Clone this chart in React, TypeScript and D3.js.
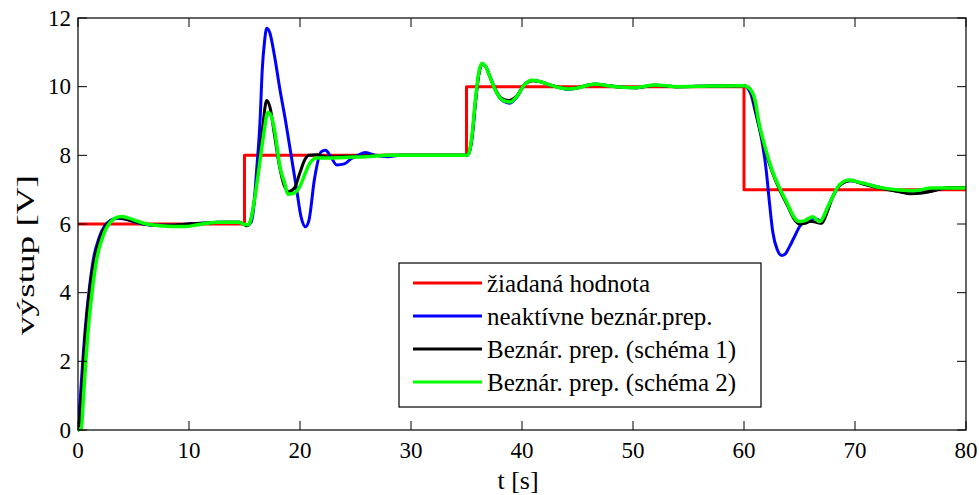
import React from "react";
import * as d3 from "d3";

// ---------- data ----------
const xTicks = [0, 10, 20, 30, 40, 50, 60, 70, 80];
const yTicks = [0, 2, 4, 6, 8, 10, 12];

const legendLabels = [
  "žiadaná hodnota",
  "neaktívne beznár.prep.",
  "Beznár. prep. (schéma 1)",
  "Beznár. prep. (schéma 2)",
];

// setpoint (žiadaná hodnota)
const refT = [0, 15, 15, 35, 35, 60, 60, 80];
const refV = [6, 6, 8, 8, 10, 10, 7, 7];

// neaktívne beznár.prep. (blue)
const blueT = [0, 0.2, 0.45, 0.75, 1.05, 1.4, 1.9, 2.4, 2.9, 3.5, 4.1, 4.9, 5.8, 7.0, 8.5, 10, 11.5, 13, 14.5, 14.9,
  15.3, 15.6, 15.8, 16.1, 16.4, 16.6, 16.8, 17.0, 17.3, 17.7, 18.2, 18.7, 19.2, 19.7, 20.1, 20.5, 20.8, 21.3, 21.9, 22.3,
  22.8, 23.3, 24.0, 24.6, 25.2, 25.9, 26.8, 27.9, 29, 31, 33, 35,
  35.2, 35.5, 35.8, 36.1, 36.4, 36.7, 37.1, 37.6, 38.2, 38.9, 39.5, 40.2, 40.9, 41.6, 42.5, 43.4, 44.2, 45, 46, 46.6, 47.5, 48.8, 50.2, 52, 54, 57, 59.6, 60.0,
  60.6, 61.0, 61.3, 61.6, 62.0, 62.3, 62.6, 63.0, 63.4, 63.7, 64.1, 64.5, 65.0, 65.5, 65.9, 66.5, 67.0, 67.7, 68.6, 69.5, 70.3, 71.2, 72.2, 73.2, 74.2, 75.2, 76.2, 77.2, 78.2, 79.2, 80];
const blueV = [0, 0.9, 2.1, 3.3, 4.2, 5.0, 5.6, 5.95, 6.1, 6.17, 6.15, 6.08, 6.0, 5.96, 5.96, 6.0, 6.03, 6.05, 6.05, 6.0,
  5.97, 6.05, 6.4, 7.6, 9.0, 10.5, 11.3, 11.7, 11.55, 10.9, 9.9, 9.0, 8.0, 7.0, 6.2, 5.92, 6.1, 7.3, 8.1, 8.15,
  7.95, 7.72, 7.75, 7.9, 8.0, 8.08, 8.0, 7.96, 8.0, 8.0, 8.0, 8.0,
  8.05, 8.5, 9.5, 10.35, 10.65, 10.6, 10.3, 9.9, 9.6, 9.52, 9.68, 10.05, 10.18, 10.15, 10.05, 9.97, 9.92, 9.96, 10.05, 10.08, 10.04, 9.99, 9.97, 10.04, 10.0, 10.02, 10.03, 10.03,
  9.8, 9.3, 8.9, 8.45, 7.57, 6.6, 5.75, 5.25, 5.08, 5.12, 5.34, 5.6, 5.92, 6.1, 6.17, 6.15, 6.08, 6.6, 7.12, 7.26, 7.22, 7.15, 7.07, 7.0, 6.93, 6.9, 6.92, 6.98, 7.05, 7.06, 7.06];

// Beznár. prep. (schéma 1) (black)
const blackT = [0, 0.2, 0.5, 0.8, 1.1, 1.5, 2.0, 2.5, 3.0, 3.6, 4.2, 5.0, 6.0, 7.0, 8.5, 10, 11.5, 13, 14.5, 14.9,
  15.2, 15.5, 15.8, 16.2, 16.6, 16.9, 17.0, 17.3, 17.7, 18.2, 18.6, 19.0, 19.5, 20.0, 20.4, 20.8, 21.5, 22.5, 24, 26, 28, 31, 33, 35,
  35.2, 35.5, 35.8, 36.1, 36.4, 36.7, 37.1, 37.6, 38.2, 38.8, 39.5, 40.2, 41.0, 41.6, 42.5, 43.4, 44.2, 45, 46, 46.6, 47.5, 48.8, 50.2, 52, 54, 57, 59.6, 60.0,
  60.5, 60.8, 61.3, 61.9, 62.5, 63.2, 63.9, 64.5, 65.0, 65.5, 66.0, 66.5, 67.0, 67.5, 68.0, 68.6, 69.2, 69.7, 70.3, 71, 72, 73, 74, 75, 76, 77, 78, 79, 80];
const blackV = [0, 0.4, 2.0, 3.3, 4.2, 5.0, 5.6, 5.95, 6.1, 6.18, 6.15, 6.08, 6.0, 5.96, 5.96, 6.0, 6.03, 6.05, 6.05, 6.0,
  5.95, 6.05, 6.5, 7.5, 8.7, 9.5, 9.6, 9.4, 8.6, 7.6, 7.1, 6.95, 7.05, 7.5, 7.85, 8.0, 8.02, 7.95, 7.97, 7.98, 8.0, 8.0, 8.0, 8.0,
  8.05, 8.55, 9.55, 10.35, 10.65, 10.6, 10.3, 9.92, 9.65, 9.6, 9.72, 10.05, 10.17, 10.15, 10.05, 9.98, 9.94, 9.97, 10.05, 10.07, 10.04, 9.99, 9.97, 10.04, 10.0, 10.02, 10.03, 10.03,
  9.95, 9.7, 8.95, 8.15, 7.55, 7.0, 6.55, 6.15, 6.0, 6.02, 6.08, 6.05, 6.02, 6.35, 6.8, 7.12, 7.24, 7.27, 7.21, 7.14, 7.06, 7.0, 6.94, 6.88, 6.9, 6.96, 7.04, 7.06, 7.06];

// Beznár. prep. (schéma 2) (green)
const greenT = [0, 0.3, 0.5, 0.7, 1.0, 1.3, 1.7, 2.1, 2.5, 2.9, 3.4, 3.9, 4.5, 5.2, 6.2, 7.4, 8.5, 9.8, 10.8, 11.6, 12.5, 13.5, 14.5, 14.9,
  15.3, 15.55, 15.8, 16.2, 16.7, 17.1, 17.4, 17.7, 18.2, 18.65, 18.9, 19.3, 20.0, 20.5, 20.9, 21.5, 22.5, 24, 26, 28, 31, 33, 35,
  35.2, 35.5, 35.8, 36.1, 36.4, 36.7, 37.1, 37.6, 38.2, 38.9, 39.5, 40.2, 40.9, 41.6, 42.5, 43.4, 44.2, 45, 46, 46.6, 47.5, 48.8, 50.2, 52, 54, 57, 59.6, 60.0,
  60.5, 61.0, 61.3, 61.9, 62.5, 63.2, 63.9, 64.5, 65.0, 65.5, 66.2, 66.8, 67.7, 68.6, 69.5, 70.3, 71.0, 72.0, 72.9, 74.0, 75.2, 76.0, 76.8, 78, 79, 80];
const greenV = [0, 0.05, 1.0, 2.0, 3.2, 4.1, 5.0, 5.5, 5.85, 6.05, 6.18, 6.22, 6.18, 6.1, 6.0, 5.95, 5.93, 5.93, 5.98, 6.02, 6.05, 6.05, 6.05, 6.0,
  5.98, 6.1, 6.5, 7.37, 8.55, 9.25, 9.15, 8.74, 7.66, 7.15, 6.87, 6.88, 7.1, 7.5, 7.78, 7.92, 7.92, 7.94, 7.96, 8.0, 8.0, 8.0, 8.0,
  8.05, 8.6, 9.6, 10.4, 10.68, 10.6, 10.3, 9.9, 9.62, 9.55, 9.7, 10.05, 10.19, 10.15, 10.05, 9.97, 9.93, 9.96, 10.05, 10.08, 10.04, 9.99, 9.97, 10.05, 10.0, 10.02, 10.03, 10.03,
  9.95, 9.6, 9.03, 8.24, 7.6, 7.05, 6.6, 6.2, 6.07, 6.1, 6.21, 6.07, 6.6, 7.14, 7.28, 7.22, 7.17, 7.08, 7.03, 6.99, 6.97, 7.0, 7.05, 7.05, 7.05, 7.05];

// ---------- layout ----------
const W = 979;
const H = 495;
const M = { left: 78, top: 18, right: 966, bottom: 430 };
const FONT = "Liberation Serif, Times New Roman, DejaVu Serif, serif";

export default function App() {
  const x = d3.scaleLinear().domain([0, 80]).range([M.left, M.right]);
  const y = d3.scaleLinear().domain([0, 12]).range([M.bottom, M.top]);

  const mk = (ts: number[], vs: number[], curve: d3.CurveFactory) =>
    d3
      .line<number>()
      .x((_, i) => x(ts[i]))
      .y((v) => y(v))
      .curve(curve)(vs) || "";

  const series = [
    { d: mk(refT, refV, d3.curveLinear), color: "#ff0000", w: 3 },
    { d: mk(blueT, blueV, d3.curveMonotoneX), color: "#0000ff", w: 3 },
    { d: mk(blackT, blackV, d3.curveMonotoneX), color: "#000000", w: 3 },
    { d: mk(greenT, greenV, d3.curveMonotoneX), color: "#00ff00", w: 3.5 },
  ];
  const legendColors = ["#ff0000", "#0000ff", "#000000", "#00ff00"];
  const tickLen = 9;

  return (
    <svg width={W} height={H} style={{ position: "absolute", left: 0, top: 0, background: "#fff", fontFamily: FONT }}>
      <rect x={0} y={0} width={W} height={H} fill="#fff" />
      <defs>
        <clipPath id="plotclip">
          <rect x={M.left} y={M.top - 2} width={M.right - M.left} height={M.bottom - M.top + 4} />
        </clipPath>
      </defs>
      <g clipPath="url(#plotclip)">
        {series.map((s, i) => (
          <path key={i} d={s.d} fill="none" stroke={s.color} strokeWidth={s.w} strokeLinejoin="round" strokeLinecap="round" />
        ))}
      </g>
      {/* frame */}
      <rect x={M.left} y={M.top} width={M.right - M.left} height={M.bottom - M.top} fill="none" stroke="#000" strokeWidth={1.2} />
      {/* ticks */}
      {xTicks.map((t) => (
        <g key={"xt" + t}>
          <line x1={x(t)} x2={x(t)} y1={M.bottom} y2={M.bottom - tickLen} stroke="#000" strokeWidth={1} />
          <line x1={x(t)} x2={x(t)} y1={M.top} y2={M.top + tickLen} stroke="#000" strokeWidth={1} />
          <text x={x(t)} y={458} fontSize={23} textAnchor="middle" fill="#000">{t}</text>
        </g>
      ))}
      {yTicks.map((t) => (
        <g key={"yt" + t}>
          <line x1={M.left} x2={M.left + tickLen} y1={y(t)} y2={y(t)} stroke="#000" strokeWidth={1} />
          <line x1={M.right} x2={M.right - tickLen} y1={y(t)} y2={y(t)} stroke="#000" strokeWidth={1} />
          <text x={71} y={y(t) + 7.5} fontSize={23} textAnchor="end" fill="#000">{t}</text>
        </g>
      ))}
      {/* axis labels */}
      <text x={518} y={489} fontSize={26} textAnchor="middle" fill="#000">t [s]</text>
      <text transform={`translate(34,${255}) rotate(-90)`} fontSize={26} textAnchor="middle" fill="#000"
        textLength={160} lengthAdjust="spacingAndGlyphs">výstup [V]</text>
      {/* legend */}
      <rect x={399} y={263} width={362} height={144} fill="#fff" stroke="#000" strokeWidth={1.2} />
      {legendLabels.map((lab, i) => (
        <g key={lab}>
          <line x1={413} x2={482} y1={283 + i * 33} y2={283 + i * 33} stroke={legendColors[i]} strokeWidth={3} />
          <text x={487} y={292 + i * 33} fontSize={25} fill="#000">{lab}</text>
        </g>
      ))}
    </svg>
  );
}
